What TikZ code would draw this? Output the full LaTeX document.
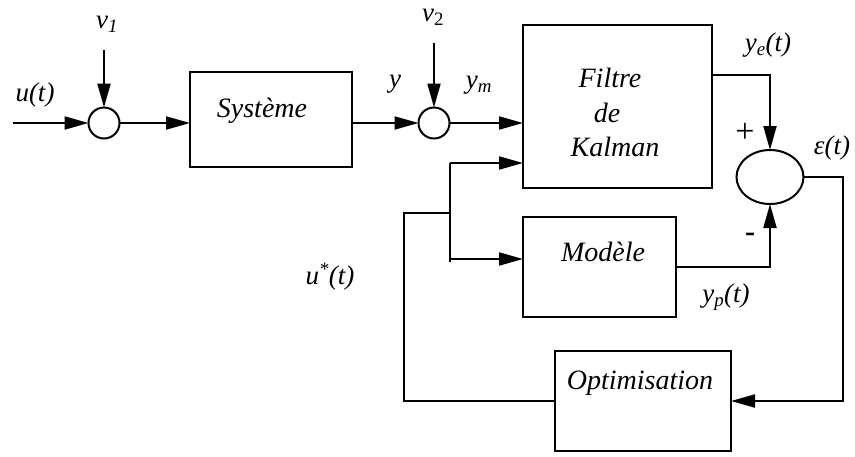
\documentclass[tikz,border=0pt]{standalone}
\usepackage{fontspec}
\setmainfont{Liberation Serif}
\usetikzlibrary{arrows.meta,shapes.geometric}
\begin{document}
\begin{tikzpicture}[x=1pt,y=-1pt,line width=2pt,
  arr/.style={-{Triangle[length=24pt,width=13pt]}},
  blk/.style={draw,rectangle,inner sep=0pt,outer sep=0pt},
  sumc/.style={draw,circle,minimum size=31pt,inner sep=0pt,outer sep=0pt},
  btxt/.style={font=\fontsize{28}{32}\selectfont\itshape,inner sep=0pt},
  lbl/.style={font=\fontsize{27}{30}\selectfont\itshape,inner sep=0pt}]
\useasboundingbox (0,0) rectangle (855,456);
% blocks
\node[sumc] (s1) at (104,123) {};
\node[sumc] (s2) at (434,123) {};
\node[draw,ellipse,minimum width=67pt,minimum height=54pt,inner sep=0pt,outer sep=0pt] (s3) at (770,177) {};
\node[blk,minimum width=162pt,minimum height=95pt] (sys) at (271,119.5) {};
\node[blk,minimum width=189pt,minimum height=163pt] (kal) at (617.5,106.5) {};
\node[blk,minimum width=153pt,minimum height=100pt] (mod) at (599.5,267) {};
\node[blk,minimum width=176pt,minimum height=100pt] (opt) at (643,401) {};
% block texts
\node[btxt] (tsys) at (262,111) {Système};
\node[btxt] (tk1) at (610,78) {Filtre};
\node[btxt] (tk2) at (607,113) {de};
\node[btxt] (tk3) at (615,147) {Kalman};
\node[btxt] (tmod) at (603,252) {Modèle};
\node[btxt] (topt) at (640,383) {Optimisation};
% coordinates
\coordinate (uin) at (13,123);
\coordinate (v1s) at (104,50);
\coordinate (v2s) at (434,43);
\coordinate (br) at (450,163);
\coordinate (brb) at (450,262);
\coordinate (mb) at (450,259);
\coordinate (fb) at (450,213);
\coordinate (fc) at (404,213);
\coordinate (keo) at (712,75);
\coordinate (rc) at (843,401);
% connectors
\draw[arr] (uin) -- (s1);
\draw[arr] (v1s) -- (s1);
\draw[arr] (s1) -- (s1 -| sys.west);
\draw[arr] (s2 -| sys.east) -- (s2);
\draw[arr] (v2s) -- (s2);
\draw[arr] (s2) -- (s2 -| kal.west);
\draw[arr] (br) -- (br -| kal.west);
\draw (br) -- (brb);
\draw[arr] (mb) -- (mb -| mod.west);
\draw (opt.west) -| (fc) -- (fb);
\draw[arr] (keo) -| (s3.north);
\draw[arr] (mod.east) -| (s3.south);
\draw[arr] (s3.east) -| (rc) -- (opt.east);
% labels
\node[lbl] (lu) at (35,95) {u(t)};
\node[lbl] (lv1) at (107,24) {v\textsubscript{1}};
\node[lbl] (ly) at (395,84) {y};
\node[lbl] (lv2) at (433,17) {v\textsubscript{\upshape 2}};
\node[lbl] (lym) at (479,85) {y\textsubscript{m}};
\node[lbl] (lye) at (768,45) {y\textsubscript{e}(t)};
\node[lbl,font=\fontsize{34}{36}\selectfont] (lplus) at (745,133) {+};
\node[lbl] (leps) at (832,148) {ε(t)};
\node[lbl,font=\fontsize{30}{32}\selectfont\bfseries] (lminus) at (750,237) {-};
\node[lbl] (lyp) at (726,297) {y\textsubscript{p}(t)};
\node[lbl] (lus) at (330,277) {u\textsuperscript{*}(t)};
\end{tikzpicture}
\end{document}
